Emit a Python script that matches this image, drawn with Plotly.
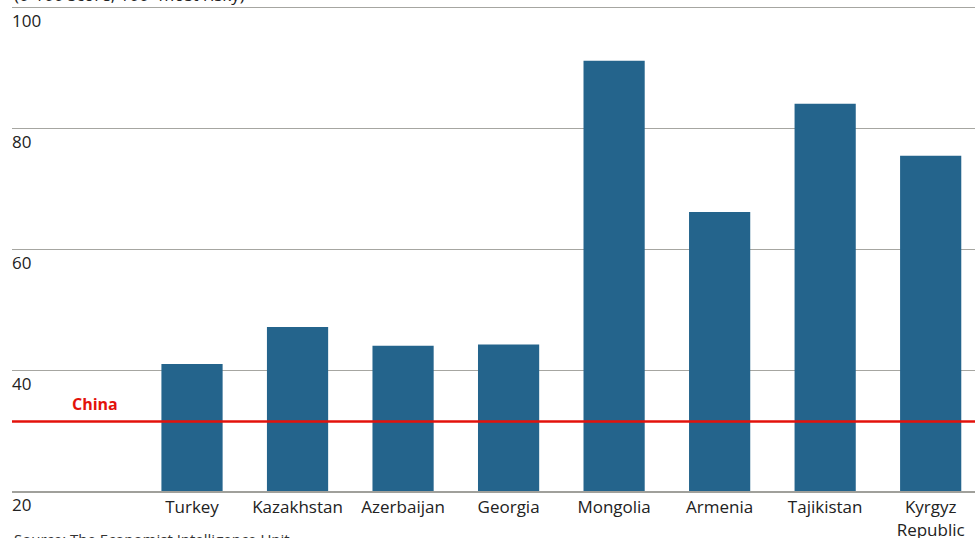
import plotly.graph_objects as go

countries = ["Turkey", "Kazakhstan", "Azerbaijan", "Georgia", "Mongolia",
             "Armenia", "Tajikistan", "Kyrgyz<br>Republic"]
scores = [41.0, 47.1, 44.0, 44.2, 91.1, 66.1, 84.0, 75.4]
china_score = 31.5
china_label = "China"
y_ticks = [20, 40, 60, 80, 100]
subtitle = "(0-100 score, 100=most risky)"
source = "Source: The Economist Intelligence Unit"

FONT = "Open Sans"
BAR = "#24648c"
RED = "#e3120b"
GRID = "#a6a6a1"

fig = go.Figure()
fig.add_trace(go.Bar(x=countries, y=scores, marker_color=BAR,
                     marker_line_width=0, hoverinfo="skip"))

fig.add_shape(type="line", xref="paper", yref="y", x0=0, x1=1,
              y0=china_score, y1=china_score,
              line=dict(color=RED, width=2.5), layer="above")
fig.add_annotation(x=-0.92, y=china_score, xref="x", yref="y",
                   text="<b>" + china_label + "</b>", showarrow=False,
                   yanchor="bottom", yshift=4,
                   font=dict(family=FONT, size=16, color=RED))

# y-axis labels placed under each gridline (Economist style)
for t in y_ticks:
    fig.add_annotation(x=0, y=t, xref="paper", yref="y", xanchor="left",
                       yanchor="top", yshift=0, xshift=-2, text=str(t),
                       showarrow=False,
                       font=dict(family=FONT, size=17, color="#222"))

fig.add_annotation(x=0, y=1, xref="paper", yref="paper", xanchor="left",
                   yanchor="bottom", yshift=-3, text=subtitle, showarrow=False,
                   font=dict(family=FONT, size=17, color="#222"))
fig.add_annotation(x=0, y=0, xref="paper", yref="paper", xanchor="left",
                   yanchor="top", yshift=-36, text=source, showarrow=False,
                   font=dict(family=FONT, size=15, color="#333"))

fig.update_layout(
    width=975, height=538,
    margin=dict(l=12, r=0, t=5, b=47, autoexpand=False),
    plot_bgcolor="white", paper_bgcolor="white",
    bargap=0.42, showlegend=False,
    font=dict(family=FONT, size=17, color="#222"),
    xaxis=dict(range=[-1.706, 7.42], showgrid=False, ticks="",
               automargin=False,
               showline=True, linecolor="#a0a09b", linewidth=2,
               tickfont=dict(family=FONT, size=17, color="#222")),
    yaxis=dict(range=[20, 100.33], tickvals=y_ticks, showgrid=True,
               automargin=False,
               gridcolor=GRID, gridwidth=1.3, zeroline=False,
               showline=False, ticks="", showticklabels=False),
)

fig.write_html("out.html", config={"displayModeBar": False},
               post_script="document.body.style.margin='0';"
                           "document.body.style.overflow='hidden';")
